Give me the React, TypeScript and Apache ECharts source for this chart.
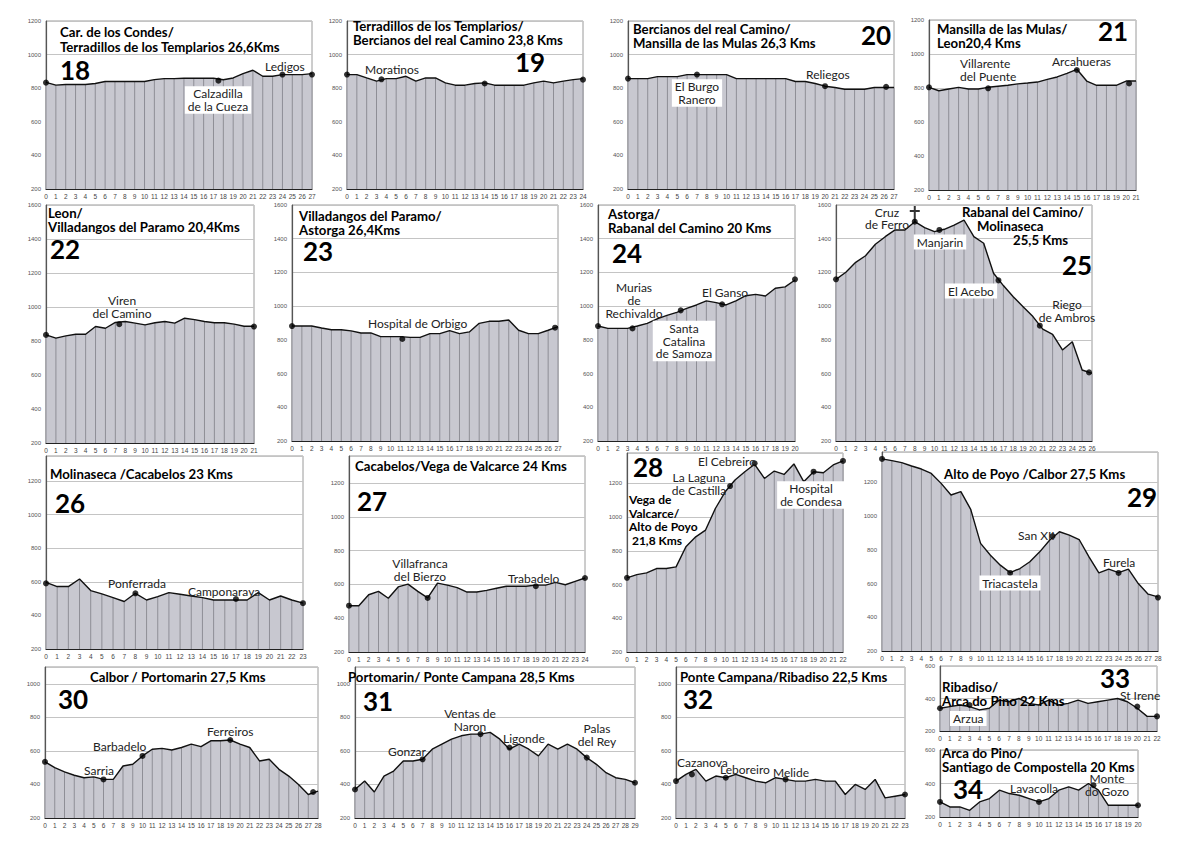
import React, { useEffect, useRef } from "react";
import * as echarts from "echarts";

// ---- elevation profiles (metres, one value per km) ----
const elev18 = [835, 818, 822, 822, 822, 828, 840, 840, 840, 840, 840, 851, 857, 857, 859, 859, 859, 859, 850, 861, 887, 907, 871, 871, 881, 881, 881, 887];
const dots18 = [[0, 833], [17.5, 845], [24, 881], [27, 881]];

const elev19 = [881, 881, 861, 842, 857, 857, 871, 842, 861, 861, 832, 818, 818, 828, 832, 818, 818, 818, 818, 832, 842, 832, 842, 851, 857];
const dots19 = [[0, 881], [3.5, 853], [14, 828], [24, 851]];

const elev20 = [857, 857, 857, 869, 869, 869, 881, 881, 881, 881, 881, 857, 857, 857, 857, 857, 857, 840, 840, 828, 812, 804, 794, 794, 794, 804, 804, 804];
const dots20 = [[0, 857], [7, 881], [20, 812], [26.2, 808]];

const elev21 = [804, 784, 794, 804, 794, 794, 804, 810, 816, 824, 829, 835, 851, 865, 886, 910, 841, 816, 816, 816, 841, 841];
const dots21 = [[0, 804], [6, 798], [15, 906], [20.3, 827]];

const elev22 = [836, 817, 830, 840, 840, 885, 875, 909, 915, 905, 895, 907, 915, 905, 934, 926, 915, 907, 907, 899, 887, 887];
const dots22 = [[0, 836], [7.4, 899], [21, 885]];

const elev23 = [882, 882, 882, 870, 860, 860, 853, 841, 841, 819, 819, 819, 815, 815, 837, 837, 855, 837, 847, 898, 910, 910, 918, 857, 837, 837, 857, 878];
const dots23 = [[0, 882], [11.2, 805], [26.7, 872]];

const elev24 = [882, 868, 868, 868, 882, 898, 924, 945, 963, 987, 1007, 1031, 1021, 1007, 1031, 1062, 1070, 1060, 1106, 1114, 1155];
const dots24 = [[0, 882], [3.5, 868], [8.4, 975], [12.6, 1011], [20, 1159]];

const elev25 = [1159, 1201, 1260, 1299, 1367, 1412, 1452, 1452, 1501, 1466, 1442, 1456, 1481, 1511, 1412, 1373, 1195, 1122, 1056, 997, 938, 864, 833, 740, 789, 621, 601];
const dots25 = [[0, 1159], [8, 1501], [10.5, 1452], [16.5, 1153], [20.7, 884], [25.7, 607]];
const cross25 = [[8, 1546]];

const elev26 = [597, 572, 572, 617, 548, 528, 506, 483, 532, 492, 512, 536, 526, 516, 506, 492, 492, 492, 492, 536, 492, 516, 492, 473];
const dots26 = [[0, 591], [8, 532], [17, 498], [23, 473]];

const elev27 = [474, 474, 539, 559, 518, 585, 602, 559, 520, 608, 596, 581, 555, 555, 565, 577, 589, 589, 589, 596, 596, 612, 598, 618, 638];
const dots27 = [[0, 474], [8, 520], [19, 589], [24, 638]];

const elev28 = [640, 659, 669, 695, 695, 705, 824, 883, 923, 1051, 1150, 1220, 1269, 1313, 1229, 1273, 1253, 1315, 1210, 1269, 1263, 1309, 1333];
const dots28 = [[0, 640], [10.5, 1184], [13, 1319], [19, 1269], [22, 1333]];

const elev29 = [1339, 1329, 1317, 1297, 1279, 1253, 1194, 1125, 1145, 1040, 838, 768, 709, 665, 689, 729, 788, 857, 907, 887, 861, 758, 663, 685, 665, 685, 600, 537, 521];
const dots29 = [[0, 1339], [13, 663], [17.3, 881], [24, 663], [28, 517]];

const elev30 = [535, 500, 475, 455, 440, 445, 430, 430, 510, 520, 570, 610, 615, 605, 620, 640, 625, 660, 660, 665, 640, 620, 540, 550, 490, 450, 400, 340, 360];
const dots30 = [[0, 535], [6, 430], [10, 570], [19, 665], [27.5, 355]];

const elev31 = [370, 420, 355, 450, 480, 540, 540, 550, 610, 640, 670, 690, 700, 700, 710, 670, 610, 640, 610, 570, 640, 610, 640, 610, 560, 520, 470, 440, 430, 410];
const dots31 = [[0, 370], [7, 550], [13, 700], [16, 620], [24, 560], [29, 410]];

const elev32 = [420, 460, 490, 420, 450, 440, 460, 440, 420, 410, 440, 430, 420, 420, 430, 420, 420, 340, 400, 370, 430, 320, 330, 340];
const dots32 = [[0, 420], [1.6, 460], [5, 440], [11, 430], [23, 340]];

const elev33 = [340, 350, 360, 350, 330, 340, 390, 380, 400, 370, 360, 390, 360, 370, 390, 370, 380, 390, 400, 380, 340, 290, 290];
const dots33 = [[0, 340], [3, 360], [20, 350], [22, 290]];

const elev34 = [290, 260, 260, 240, 290, 310, 360, 340, 330, 310, 290, 310, 360, 380, 360, 400, 360, 270, 270, 270, 270];
const dots34 = [[0, 290], [10, 290], [15.5, 390], [20, 270]];

// ---- panel layout (plot box in page pixels: left, top, right, bottom) ----
const panels = [
  { elev: elev18, dots: dots18, yMax: 1200, box: [46, 21, 312, 189] },
  { elev: elev19, dots: dots19, yMax: 1200, box: [347, 21, 583, 189] },
  { elev: elev20, dots: dots20, yMax: 1200, box: [628, 21, 894, 189] },
  { elev: elev21, dots: dots21, yMax: 1200, box: [929, 20, 1136, 190] },
  { elev: elev22, dots: dots22, yMax: 1600, box: [46, 205, 254, 443] },
  { elev: elev23, dots: dots23, yMax: 1600, box: [292, 205, 558, 441] },
  { elev: elev24, dots: dots24, yMax: 1600, box: [598, 205, 795, 441] },
  { elev: elev25, dots: dots25, yMax: 1600, box: [836, 205, 1092, 441], cross: cross25 },
  { elev: elev26, dots: dots26, yMax: 1350, box: [46, 456, 303, 649] },
  { elev: elev27, dots: dots27, yMax: 1360, box: [349, 456, 585, 652] },
  { elev: elev28, dots: dots28, yMax: 1380, box: [627, 453, 843, 652] },
  { elev: elev29, dots: dots29, yMax: 1380, box: [882, 452, 1158, 651] },
  { elev: elev30, dots: dots30, yMax: 1100, box: [45, 667, 318, 818] },
  { elev: elev31, dots: dots31, yMax: 1100, box: [355, 667, 635, 818] },
  { elev: elev32, dots: dots32, yMax: 1100, box: [676, 667, 905, 818] },
  { elev: elev33, dots: dots33, yMax: 600, box: [940, 666, 1157, 731] },
  { elev: elev34, dots: dots34, yMax: 600, box: [940, 750, 1138, 817] },
];

// ---- texts: [text, x, centerY, fontSize, lineHeight] ----
const titles: [string, number, number, number, number][] = [
  ["Car. de los Condes/\nTerradillos de los Templarios 26,6Kms", 60, 39.5, 13.2, 14.2],
  ["Terradillos de los Templarios/\nBercianos del real Camino 23,8 Kms", 353, 33.3, 13.2, 14.2],
  ["Bercianos del real Camino/\nMansilla de las Mulas 26,3 Kms", 633, 36, 13.2, 14.2],
  ["Mansilla de las Mulas/\nLeon20,4 Kms", 937, 36.3, 13.2, 14.2],
  ["Leon/\nVilladangos del Paramo 20,4Kms", 48, 219.7, 13.2, 14.2],
  ["Villadangos del Paramo/\nAstorga 26,4Kms", 299, 222.7, 13.2, 14.2],
  ["Astorga/\nRabanal del Camino 20 Kms", 608, 220.7, 13.2, 14.2],
  ["Rabanal del Camino/", 962, 212, 13.2, 14.2],
  ["Molinaseca", 977, 226, 13.2, 14.2],
  ["25,5 Kms", 1013, 240, 13.2, 14.2],
  ["Molinaseca /Cacabelos 23 Kms", 50, 474, 13.2, 14.2],
  ["Cacabelos/Vega de Valcarce 24 Kms", 355, 466, 13.2, 14.2],
  ["Vega de\nValcarce/\nAlto de Poyo\n 21,8 Kms", 629, 520, 12, 13.5],
  ["Alto de Poyo /Calbor 27,5 Kms", 944, 474, 13.2, 14.2],
  ["Calbor / Portomarin 27,5 Kms", 90, 677, 13.2, 14.2],
  ["Portomarin/ Ponte Campana 28,5 Kms", 348, 677, 13.2, 14.2],
  ["Ponte Campana/Ribadiso 22,5 Kms", 680, 677, 13.2, 14.2],
  ["Ribadiso/\nArca do Pino 22 Kms", 942, 694, 13.2, 14.2],
  ["Arca do Pino/\nSantiago de Compostella 20 Kms", 942, 760, 13.2, 14.2],
];

const stageNumbers: [string, number, number][] = [
  ["18", 60, 70], ["19", 515, 61.5], ["20", 861, 35], ["21", 1098, 30.5],
  ["22", 50, 249], ["23", 303, 251], ["24", 612, 253], ["25", 1062, 264.5],
  ["26", 55, 503], ["27", 357, 500.5], ["28", 633, 466.5], ["29", 1127, 497],
  ["30", 58, 699], ["31", 363, 701], ["32", 683, 699], ["33", 1100, 678], ["34", 953, 789],
];

// [text, x, centerY, align, boxed]
const places: [string, number, number, string, boolean][] = [
  ["Ledigos", 265, 66, "left", false],
  ["Calzadilla\nde la Cueza", 218, 100, "center", true],
  ["Moratinos", 365, 69, "left", false],
  ["El Burgo\nRanero", 697, 93, "center", true],
  ["Reliegos", 806, 74, "left", false],
  ["Villarente\ndel Puente", 960, 70, "left", false],
  ["Arcahueras", 1052, 61, "left", false],
  ["Viren\ndel Camino", 122, 306.7, "center", false],
  ["Hospital de Orbigo", 368, 323.7, "left", false],
  ["Murias\nde\nRechivaldo", 634, 300.7, "center", false],
  ["El Ganso", 702, 292, "left", false],
  ["Santa\nCatalina\nde Samoza", 684, 341, "center", true],
  ["Cruz\nde Ferro", 887, 218.5, "center", false],
  ["Manjarin", 940, 242, "center", true],
  ["El Acebo", 971, 291, "center", true],
  ["Riego\nde Ambros", 1067, 310.7, "center", false],
  ["Ponferrada", 108, 583, "left", false],
  ["Camponaraya", 188, 591, "left", false],
  ["Villafranca\ndel Bierzo", 420, 570, "center", false],
  ["Trabadelo", 508, 578, "left", false],
  ["El Cebreiro", 698, 461, "left", false],
  ["La Laguna\nde Castilla", 699, 484, "center", false],
  ["Hospital\nde Condesa", 811, 495, "center", true],
  ["San XII", 1018, 535, "left", false],
  ["Triacastela", 1010, 583, "center", true],
  ["Furela", 1103, 562, "left", false],
  ["Barbadelo", 93, 746, "left", false],
  ["Sarria", 84, 770, "left", false],
  ["Ferreiros", 207, 731, "left", false],
  ["Gonzar", 388, 751, "left", false],
  ["Ventas de\nNaron", 470, 720, "center", false],
  ["Ligonde", 503, 738, "left", false],
  ["Palas\ndel Rey", 597, 735, "center", false],
  ["Cazanova", 677, 762, "left", false],
  ["Leboreiro", 720, 769, "left", false],
  ["Melide", 773, 772, "left", false],
  ["Arzua", 950, 718.5, "left", true],
  ["St Irene", 1120, 695, "left", false],
  ["Lavacolla", 1010, 788, "left", false],
  ["Monte\ndo Gozo", 1107, 785, "center", false],
];

const FONT = "Lato, 'Open Sans', sans-serif";
const AXFONT = "'Liberation Sans', Arial, sans-serif";
const crossPath = "path://M4,0H6V4H10V6H6V16H4V6H0V4H4Z";

function buildOption() {
  const grid: any[] = [];
  const xAxis: any[] = [];
  const yAxis: any[] = [];
  const series: any[] = [];
  panels.forEach((p, i) => {
    const [l, t, r, b] = p.box;
    grid.push({
      left: l, top: t, width: r - l, height: b - t, containLabel: false,
      show: true, backgroundColor: "#fff", borderColor: "#9a9a9a", borderWidth: 1,
    });
    xAxis.push({
      type: "value", gridIndex: i, min: 0, max: p.elev.length - 1, interval: 1,
      axisLine: { onZero: false, lineStyle: { color: "#222", width: 1.2 } },
      axisTick: { show: false }, splitLine: { show: false },
      axisLabel: { fontSize: 6.5, color: "#444", margin: 4, fontFamily: AXFONT, showMinLabel: true, showMaxLabel: true, formatter: (v: number) => String(v) },
    });
    yAxis.push({
      type: "value", gridIndex: i, min: 200, max: p.yMax, interval: 200,
      axisLine: { show: true, onZero: false, lineStyle: { color: "#555", width: 1.2 } },
      axisTick: { show: false },
      splitLine: { show: true, lineStyle: { color: "#c4c4c4", width: 1 } },
      axisLabel: { fontSize: 6, color: "#555", margin: 5, fontFamily: AXFONT, showMaxLabel: p.yMax % 200 === 0, formatter: (v: number) => String(v) },
    });
    const pts = p.elev.map((v, k) => [k, v]);
    series.push({
      type: "line", xAxisIndex: i, yAxisIndex: i, data: pts, symbol: "none", silent: true,
      lineStyle: { width: 0, opacity: 0 }, areaStyle: { color: "#c8c8d0", opacity: 1, origin: "start" }, z: 2,
    });
    series.push({
      type: "bar", xAxisIndex: i, yAxisIndex: i, data: pts, barWidth: 1, silent: true,
      itemStyle: { color: "#8e8e96" }, z: 3,
    });
    series.push({
      type: "line", xAxisIndex: i, yAxisIndex: i, data: pts, symbol: "none", silent: true,
      lineStyle: { color: "#111", width: 1.4 }, z: 4,
    });
    series.push({
      type: "scatter", xAxisIndex: i, yAxisIndex: i, data: p.dots, symbolSize: 6, silent: true,
      itemStyle: { color: "#000" }, z: 5,
    });
    if ((p as any).cross) {
      series.push({
        type: "scatter", xAxisIndex: i, yAxisIndex: i, data: (p as any).cross, symbol: crossPath,
        symbolSize: [10, 16], silent: true, itemStyle: { color: "#000" }, z: 5,
      });
    }
  });

  const elements: any[] = [];
  titles.forEach(([text, x, y, fs, lh]) => {
    elements.push({
      type: "text", x, y, z: 100, silent: true,
      style: { text, fontFamily: FONT, fontWeight: "bold", fontSize: fs, lineHeight: lh, fill: "#000", align: "left", verticalAlign: "middle" },
    });
  });
  stageNumbers.forEach(([text, x, y]) => {
    elements.push({
      type: "text", x, y, z: 100, silent: true,
      style: { text, fontFamily: FONT, fontWeight: "bold", fontSize: 26, lineHeight: 24, fill: "#000", align: "left", verticalAlign: "middle" },
    });
  });
  places.forEach(([text, x, y, align, boxed]) => {
    elements.push({
      type: "text", x, y, z: 100, silent: true,
      style: {
        text, fontFamily: FONT, fontSize: 12, lineHeight: 12.8, fill: "#222", align, verticalAlign: "middle",
        backgroundColor: boxed ? "#fff" : undefined, padding: boxed ? [1, 3] : 0,
      },
    });
  });

  return {
    animation: false,
    backgroundColor: "#fff",
    grid, xAxis, yAxis, series,
    graphic: { elements },
  };
}

export default function App() {
  const ref = useRef<HTMLDivElement>(null);
  useEffect(() => {
    if (!ref.current) return;
    const chart = echarts.init(ref.current, null, { renderer: "svg" });
    chart.setOption(buildOption() as any);
    return () => chart.dispose();
  }, []);
  return <div ref={ref} style={{ position: "absolute", left: 0, top: 0, width: 1200, height: 848, background: "#fff" }} />;
}
